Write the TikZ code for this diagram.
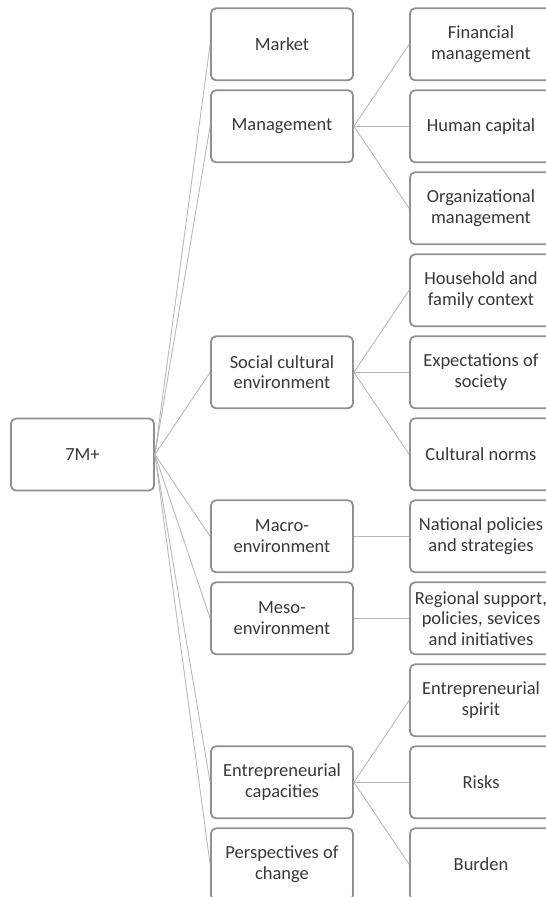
\documentclass[tikz,border=0pt]{standalone}
\usepackage{fontspec}
\setmainfont{Carlito}
\usepackage{tikz}
\usetikzlibrary{positioning}
\definecolor{boxgray}{HTML}{909090}
\definecolor{linegray}{HTML}{B8B8B8}
\definecolor{textgray}{HTML}{383838}
\tikzset{
	box/.style={draw=boxgray, line width=1.8pt, rounded corners=5pt, fill=white,
		minimum width=142pt, minimum height=72pt, inner xsep=3pt,
		align=center, text=textgray, font=\fontsize{18.5}{20.5}\selectfont},
	link/.style={draw=linegray, line width=0.9pt}
}

\begin{document}
\begin{tikzpicture}[x=1pt, y=1pt]
		\def\h{82}
		\def\top{44.3}
		\useasboundingbox (0,0) rectangle (546,-897);
		
		% links first, boxes on top
		\node[box, minimum width=143pt] (root) at (82.5,-454.5) {7M+};
		
		\foreach \k/\t in {0/Market, 1/Management, 4/{Social cultural\\environment},
			6/{Macro-\\environment}, 7/{Meso-\\environment},
			9/{Entrepreneurial\\capacities}, 10/{Perspectives of\\change}}{
			\node[box] (M-\k) at (282,-\top-\k*\h) {\t};
			\draw[link] (root.east) -- (M-\k.west);
		}
		
		\foreach \k/\t in {0/{Financial\\management}, 1/Human capital,
			2/{Organizational\\management}, 3/{Household and\\family context},
			4/{Expectations of\\society}, 5/Cultural norms,
			6/{National policies\\and strategies},
			7/{Regional support,\\policies, sevices\\and initiatives},
			8/{Entrepreneurial\\spirit}, 9/Risks, 10/Burden}{
			\node[box] (R-\k) at (481,-\top-\k*\h) {\t};
		}
		
		\foreach \a/\b in {1/0, 1/1, 1/2, 4/3, 4/4, 4/5, 6/6, 7/7, 9/8, 9/9, 9/10}{
			\draw[link] (M-\a.east) -- (R-\b.west);
		}
\end{tikzpicture}
\end{document}
